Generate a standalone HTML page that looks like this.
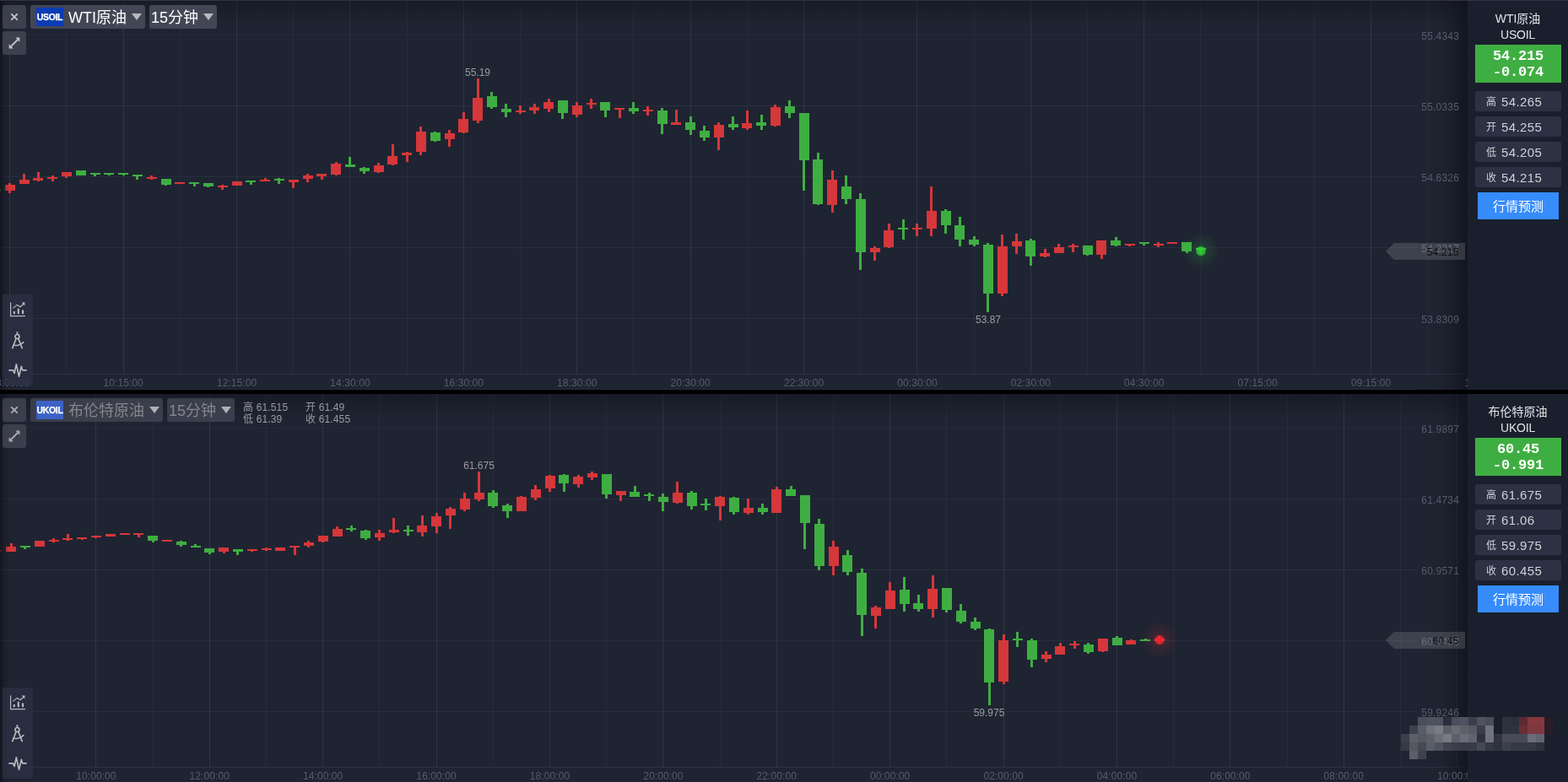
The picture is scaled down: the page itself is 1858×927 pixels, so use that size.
<!DOCTYPE html>
<html lang="zh-CN"><head><meta charset="utf-8"><title>行情</title>
<style>
*{box-sizing:border-box;margin:0;padding:0}
html,body{width:1858px;height:927px;overflow:hidden;background:#000;font-family:"Liberation Sans","Noto Sans CJK SC",sans-serif}
.panel{position:absolute;left:0;width:1858px;overflow:hidden}
.chart{position:absolute;left:0;top:0;width:1739px;height:100%;background:#1f2432}
.topline{position:absolute;left:0;top:0;width:100%;height:1px;z-index:9}
.vig{position:absolute;left:0;width:1739px;z-index:3;pointer-events:none;
 background:linear-gradient(to right,rgba(14,16,25,.75) 0,rgba(14,16,25,.35) 4px,rgba(14,16,25,0) 11px),linear-gradient(to left,rgba(14,16,25,.7) 0,rgba(14,16,25,.55) 8px,rgba(14,16,25,.3) 18px,rgba(14,16,25,.1) 30px,rgba(14,16,25,0) 46px),linear-gradient(to bottom,rgba(14,16,25,.45) 0,rgba(14,16,25,0) 30px)}
.cv{position:absolute;left:0;top:0;z-index:2}
.cv2{position:absolute;left:0;top:0;z-index:4}
.cv2 text{font-family:"Liberation Sans",sans-serif;font-size:12px}
.cv2 .ax{fill:#575b6a;letter-spacing:.18px}
.cv2 .tm{fill:#575c6d;letter-spacing:.08px}
.cv2 .hl{fill:#9b9b9f}
.cv2 .tg{fill:#0e0f12;letter-spacing:.18px}
.mos{position:absolute;left:1650px;top:840px;z-index:20}
.tb{position:absolute;left:0;top:0;z-index:5}
.btn{position:absolute;height:28px;border-radius:3px;background:#3c3f4d;display:flex;align-items:center;justify-content:center}
.btn.nm{justify-content:flex-start;background:#434655;color:#fff;font-size:18px;white-space:nowrap}
.badge{position:absolute;left:7px;top:3px;width:32px;height:22px;background:#0b3cb4;color:#fff;font-weight:bold;font-size:10.5px;line-height:22.4px;text-align:center;letter-spacing:-.35px;-webkit-text-stroke:.25px #fff}
.btn.nm .t{position:absolute;left:45px;top:.5px;line-height:28px}
.btn.iv .t{left:2px}
.tri{position:absolute;right:4.4px;top:10px;width:0;height:0;border-left:6px solid transparent;border-right:6px solid transparent;border-top:8px solid #b9b9bd}
.dim .btn{background:rgba(70,73,88,.72)}
.dim .btn.nm{background:rgba(70,73,88,.72);color:#85868c}
.dim .badge{background:#3c62c4}
.dim .btn>svg{opacity:.82}
.dim .tri{border-top-color:#b0b0b5}
.ohlc{position:absolute;color:#9a9ba0;font-size:12px;line-height:14.2px;white-space:nowrap;letter-spacing:.15px}
.ohlc span{display:inline-block}
.ohlc .c1{width:74px}
.tools{position:absolute;left:3px;top:349px;width:36px;height:108px;background:rgba(43,48,67,.82);z-index:5}
.tools div{height:36px;display:flex;align-items:center;justify-content:center}
.side{position:absolute;left:1739px;top:0;width:119px;height:100%;background:#1a1f2e;color:#e2e3e6;text-align:center;z-index:6}
.nm1{position:absolute;left:0;right:0;top:13px;font-size:14px;line-height:18px}
.nm2{position:absolute;left:0;right:0;top:32px;font-size:14px;line-height:18px;letter-spacing:-.2px}
.px{position:absolute;left:9px;top:53px;width:102px;height:45px;background:#3fae42;color:#fff;font-family:"Liberation Mono",monospace;font-weight:bold;font-size:17px;letter-spacing:-.2px;line-height:19px;padding-top:3.5px;white-space:nowrap}
.px b{display:inline-block;width:10px;text-align:center;font-weight:bold}
.px b.m{font-weight:normal;transform:scale(1.55,.6);transform-origin:50% 62%}
.st{position:relative;margin-left:9px;width:102px;height:24px;background:#2c3144;border-radius:3px;margin-bottom:6px;text-align:left;line-height:24px;white-space:nowrap}
.st:first-of-type{}
.st .k{position:absolute;left:13px;top:1px;font-size:12px;color:#d0d1d6}
.st .v{position:absolute;left:31px;top:1px;font-size:15px;letter-spacing:.4px;color:#d0d1d6}
.rows{position:absolute;top:108px}
.pred{position:absolute;left:12px;top:228px;width:96px;height:32px;background:#378cfc;color:#fff;font-size:15px;line-height:34px;text-align:center}
</style></head>
<body>
<div class="panel" style="top:0px;height:462px">
<div class="chart"></div><div class="topline" style="background:#30343f"></div>
<div class="tb">
<div class="btn" style="left:3px;top:6px;width:28px"><svg width="12" height="12" viewBox="0 0 12 12" stroke="#c6c6ca" stroke-width="1.8" fill="none"><path d="M2.3 2.3l7.4 7.4M9.7 2.3l-7.4 7.4"/></svg></div>
<div class="btn nm" style="left:36px;top:6px;width:136px"><span class="badge">USOIL</span><span class="t">WTI原油</span><i class="tri"></i></div>
<div class="btn nm iv" style="left:177px;top:6px;width:80px"><span class="t">15分钟</span><i class="tri"></i></div>
<div class="btn" style="left:3px;top:37px;width:28px"><svg width="16" height="16" viewBox="0 0 16 16" fill="#c2c2c6" stroke="#c2c2c6" stroke-width="1.8"><path d="M4 12L12 4" fill="none"/><path d="M9.2 1.6h5.2v5.2z" stroke="none"/><path d="M1.6 9.2v5.2h5.2z" stroke="none"/></svg></div>

</div>
<div class="tools"><div><svg width="20" height="20" viewBox="0 0 20 20" fill="none" stroke="#b9b9bd" stroke-width="1.2"><path d="M1.6 1.4V17.6H19"/><path d="M5.8 15.2v-3.2M10.8 15.2v-6.4M16 15.2v-4.8" stroke-width="2.1"/><path d="M4.4 8.4l4.7-4 4 2.4 4.2-3.8"/><path d="M14.6 1.6h3.8v3.8z" fill="#b9b9bd" stroke="none"/></svg></div><div><svg width="20" height="22" viewBox="0 0 20 22" fill="none" stroke="#b9b9bd" stroke-width="1.7" stroke-linecap="round"><circle cx="9.4" cy="7" r="2.5"/><path d="M9.4 1.8v2.4"/><path d="M8.1 9.3L3.8 20.6M10.7 9.3L15.2 20.6"/><path d="M4.9 17c3.6 1.2 8.6-.2 11.9-3.4"/></svg></div><div><svg width="22" height="18" viewBox="0 0 22 18" fill="none" stroke="#b9b9bd" stroke-width="1.7" stroke-linejoin="round" stroke-linecap="round"><path d="M1 8.8h4.4l1.7 3.6L9.3 1.8l3.2 14.6 2.8-12 1.4 4.4H21"/></svg></div></div>
<div class="side">
<div class="nm1">WTI原油</div><div class="nm2">USOIL</div>
<div class="px"><div>54.215</div><div>-0.074</div></div>
<div class="rows"><div class="st"><span class="k">高</span><span class="v">54.265</span></div><div class="st"><span class="k">开</span><span class="v">54.255</span></div><div class="st"><span class="k">低</span><span class="v">54.205</span></div><div class="st"><span class="k">收</span><span class="v">54.215</span></div>
</div><div class="pred">行情预测</div>
</div>
</div>
<div class="panel" style="top:466px;height:461px">
<div class="chart"></div><div class="topline" style="background:#000"></div>
<div class="tb dim">
<div class="btn" style="left:3px;top:6px;width:28px"><svg width="12" height="12" viewBox="0 0 12 12" stroke="#c6c6ca" stroke-width="1.8" fill="none"><path d="M2.3 2.3l7.4 7.4M9.7 2.3l-7.4 7.4"/></svg></div>
<div class="btn nm" style="left:36px;top:6px;width:157px"><span class="badge">UKOIL</span><span class="t">布伦特原油</span><i class="tri"></i></div>
<div class="btn nm iv" style="left:198px;top:6px;width:80px"><span class="t">15分钟</span><i class="tri"></i></div>
<div class="btn" style="left:3px;top:37px;width:28px"><svg width="16" height="16" viewBox="0 0 16 16" fill="#c2c2c6" stroke="#c2c2c6" stroke-width="1.8"><path d="M4 12L12 4" fill="none"/><path d="M9.2 1.6h5.2v5.2z" stroke="none"/><path d="M1.6 9.2v5.2h5.2z" stroke="none"/></svg></div>
<div class="ohlc" style="left:288px;top:10px"><div><span class="c1">高 61.515</span><span>开 61.49</span></div><div><span class="c1">低 61.39</span><span>收 61.455</span></div></div>
</div>
<div class="tools"><div><svg width="20" height="20" viewBox="0 0 20 20" fill="none" stroke="#b9b9bd" stroke-width="1.2"><path d="M1.6 1.4V17.6H19"/><path d="M5.8 15.2v-3.2M10.8 15.2v-6.4M16 15.2v-4.8" stroke-width="2.1"/><path d="M4.4 8.4l4.7-4 4 2.4 4.2-3.8"/><path d="M14.6 1.6h3.8v3.8z" fill="#b9b9bd" stroke="none"/></svg></div><div><svg width="20" height="22" viewBox="0 0 20 22" fill="none" stroke="#b9b9bd" stroke-width="1.7" stroke-linecap="round"><circle cx="9.4" cy="7" r="2.5"/><path d="M9.4 1.8v2.4"/><path d="M8.1 9.3L3.8 20.6M10.7 9.3L15.2 20.6"/><path d="M4.9 17c3.6 1.2 8.6-.2 11.9-3.4"/></svg></div><div><svg width="22" height="18" viewBox="0 0 22 18" fill="none" stroke="#b9b9bd" stroke-width="1.7" stroke-linejoin="round" stroke-linecap="round"><path d="M1 8.8h4.4l1.7 3.6L9.3 1.8l3.2 14.6 2.8-12 1.4 4.4H21"/></svg></div></div>
<div class="side">
<div class="nm1">布伦特原油</div><div class="nm2">UKOIL</div>
<div class="px"><div>60.45</div><div>-0.991</div></div>
<div class="rows"><div class="st"><span class="k">高</span><span class="v">61.675</span></div><div class="st"><span class="k">开</span><span class="v">61.06</span></div><div class="st"><span class="k">低</span><span class="v">59.975</span></div><div class="st"><span class="k">收</span><span class="v">60.455</span></div>
</div><div class="pred">行情预测</div>
</div>
</div>
<svg class="cv" width="1739" height="927" viewBox="0 0 1739 927" shape-rendering="crispEdges">
<defs>
<radialGradient id="gg"><stop offset="0" stop-color="#35d03a" stop-opacity="0.40"/><stop offset="0.35" stop-color="#35d03a" stop-opacity="0.13"/><stop offset="1" stop-color="#35d03a" stop-opacity="0"/></radialGradient>
<radialGradient id="gr"><stop offset="0" stop-color="#f02a2e" stop-opacity="0.40"/><stop offset="0.35" stop-color="#f02a2e" stop-opacity="0.13"/><stop offset="1" stop-color="#f02a2e" stop-opacity="0"/></radialGradient>
<clipPath id="c1"><rect x="0" y="0" width="1739" height="462"/></clipPath>
<clipPath id="c2"><rect x="0" y="466" width="1739" height="461"/></clipPath>
</defs>
<g clip-path="url(#c1)">
<rect x="0" y="41" width="1679" height="1" fill="#8fa3c0" fill-opacity="0.045"/>
<rect x="0" y="125" width="1679" height="1" fill="#8fa3c0" fill-opacity="0.085"/>
<rect x="0" y="209" width="1679" height="1" fill="#8fa3c0" fill-opacity="0.085"/>
<rect x="0" y="293" width="1679" height="1" fill="#8fa3c0" fill-opacity="0.085"/>
<rect x="0" y="377" width="1679" height="1" fill="#8fa3c0" fill-opacity="0.085"/>
<rect x="0" y="461" width="1679" height="1" fill="#8fa3c0" fill-opacity="0.085"/>
<rect x="0" y="443" width="1739" height="1" fill="#8fa3c0" fill-opacity="0.12"/>
<rect x="11" y="0" width="1" height="443" fill="#8fa3c0" fill-opacity="0.14"/>
<rect x="78" y="0" width="1" height="443" fill="#8fa3c0" fill-opacity="0.06"/>
<rect x="146" y="0" width="1" height="443" fill="#8fa3c0" fill-opacity="0.14"/>
<rect x="213" y="0" width="1" height="443" fill="#8fa3c0" fill-opacity="0.06"/>
<rect x="280" y="0" width="1" height="443" fill="#8fa3c0" fill-opacity="0.14"/>
<rect x="347" y="0" width="1" height="443" fill="#8fa3c0" fill-opacity="0.06"/>
<rect x="414" y="0" width="1" height="443" fill="#8fa3c0" fill-opacity="0.14"/>
<rect x="482" y="0" width="1" height="443" fill="#8fa3c0" fill-opacity="0.06"/>
<rect x="549" y="0" width="1" height="443" fill="#8fa3c0" fill-opacity="0.14"/>
<rect x="616" y="0" width="1" height="443" fill="#8fa3c0" fill-opacity="0.06"/>
<rect x="683" y="0" width="1" height="443" fill="#8fa3c0" fill-opacity="0.14"/>
<rect x="750" y="0" width="1" height="443" fill="#8fa3c0" fill-opacity="0.06"/>
<rect x="818" y="0" width="1" height="443" fill="#8fa3c0" fill-opacity="0.14"/>
<rect x="885" y="0" width="1" height="443" fill="#8fa3c0" fill-opacity="0.06"/>
<rect x="952" y="0" width="1" height="443" fill="#8fa3c0" fill-opacity="0.14"/>
<rect x="1019" y="0" width="1" height="443" fill="#8fa3c0" fill-opacity="0.06"/>
<rect x="1086" y="0" width="1" height="443" fill="#8fa3c0" fill-opacity="0.14"/>
<rect x="1154" y="0" width="1" height="443" fill="#8fa3c0" fill-opacity="0.06"/>
<rect x="1221" y="0" width="1" height="443" fill="#8fa3c0" fill-opacity="0.14"/>
<rect x="1288" y="0" width="1" height="443" fill="#8fa3c0" fill-opacity="0.06"/>
<rect x="1355" y="0" width="1" height="443" fill="#8fa3c0" fill-opacity="0.14"/>
<rect x="1422" y="0" width="1" height="443" fill="#8fa3c0" fill-opacity="0.06"/>
<rect x="1490" y="0" width="1" height="443" fill="#8fa3c0" fill-opacity="0.14"/>
<rect x="1557" y="0" width="1" height="443" fill="#8fa3c0" fill-opacity="0.06"/>
<rect x="1624" y="0" width="1" height="443" fill="#8fa3c0" fill-opacity="0.14"/>
<rect x="1691" y="0" width="1" height="443" fill="#8fa3c0" fill-opacity="0.06"/>
<g fill="#3fae42"><rect x="-11" y="224" width="12" height="3"/></g>
<g fill="#d5373a"><rect x="10" y="217" width="3" height="12"/><rect x="6" y="219" width="12" height="7"/></g>
<g fill="#d5373a"><rect x="27" y="206" width="3" height="12"/><rect x="23" y="213" width="12" height="5"/></g>
<g fill="#d5373a"><rect x="44" y="204" width="3" height="11"/><rect x="39" y="211" width="12" height="3"/></g>
<g fill="#d5373a"><rect x="61" y="208" width="3" height="7"/><rect x="56" y="210" width="12" height="2"/></g>
<g fill="#d5373a"><rect x="77" y="204" width="3" height="7"/><rect x="73" y="204" width="12" height="5"/></g>
<g fill="#3fae42"><rect x="90" y="202" width="12" height="6"/></g>
<g fill="#3fae42"><rect x="111" y="205" width="3" height="4"/><rect x="107" y="205" width="12" height="2"/></g>
<g fill="#3fae42"><rect x="128" y="205" width="3" height="3"/><rect x="123" y="205" width="12" height="2"/></g>
<g fill="#3fae42"><rect x="145" y="205" width="3" height="3"/><rect x="140" y="205" width="12" height="2"/></g>
<g fill="#3fae42"><rect x="161" y="207" width="3" height="6"/><rect x="157" y="207" width="12" height="2"/></g>
<g fill="#d5373a"><rect x="178" y="208" width="3" height="5"/><rect x="174" y="210" width="12" height="2"/></g>
<g fill="#3fae42"><rect x="195" y="212" width="3" height="8"/><rect x="191" y="212" width="12" height="7"/></g>
<g fill="#d5373a"><rect x="207" y="216" width="12" height="2"/></g>
<g fill="#3fae42"><rect x="229" y="216" width="3" height="5"/><rect x="224" y="216" width="12" height="2"/></g>
<g fill="#3fae42"><rect x="245" y="217" width="3" height="5"/><rect x="241" y="217" width="12" height="4"/></g>
<g fill="#d5373a"><rect x="262" y="219" width="3" height="6"/><rect x="258" y="220" width="12" height="2"/></g>
<g fill="#d5373a"><rect x="275" y="215" width="12" height="5"/></g>
<g fill="#3fae42"><rect x="296" y="214" width="3" height="5"/><rect x="291" y="214" width="12" height="2"/></g>
<g fill="#d5373a"><rect x="313" y="211" width="3" height="4"/><rect x="308" y="213" width="12" height="2"/></g>
<g fill="#3fae42"><rect x="329" y="211" width="3" height="7"/><rect x="325" y="212" width="12" height="2"/></g>
<g fill="#d5373a"><rect x="346" y="213" width="3" height="10"/><rect x="342" y="213" width="12" height="3"/></g>
<g fill="#d5373a"><rect x="363" y="206" width="3" height="10"/><rect x="359" y="208" width="12" height="4"/></g>
<g fill="#d5373a"><rect x="380" y="206" width="3" height="7"/><rect x="375" y="206" width="12" height="3"/></g>
<g fill="#d5373a"><rect x="397" y="192" width="3" height="16"/><rect x="392" y="194" width="12" height="13"/></g>
<g fill="#3fae42"><rect x="413" y="186" width="3" height="12"/><rect x="409" y="195" width="12" height="3"/></g>
<g fill="#3fae42"><rect x="430" y="198" width="3" height="8"/><rect x="426" y="199" width="12" height="4"/></g>
<g fill="#d5373a"><rect x="447" y="193" width="3" height="12"/><rect x="443" y="196" width="12" height="8"/></g>
<g fill="#d5373a"><rect x="464" y="171" width="3" height="25"/><rect x="459" y="185" width="12" height="10"/></g>
<g fill="#d5373a"><rect x="481" y="180" width="3" height="12"/><rect x="476" y="181" width="12" height="3"/></g>
<g fill="#d5373a"><rect x="497" y="150" width="3" height="34"/><rect x="493" y="156" width="12" height="24"/></g>
<g fill="#3fae42"><rect x="514" y="156" width="3" height="12"/><rect x="510" y="157" width="12" height="10"/></g>
<g fill="#d5373a"><rect x="531" y="154" width="3" height="20"/><rect x="527" y="158" width="12" height="7"/></g>
<g fill="#d5373a"><rect x="548" y="133" width="3" height="25"/><rect x="543" y="141" width="12" height="16"/></g>
<g fill="#d5373a"><rect x="565" y="93" width="3" height="53"/><rect x="560" y="116" width="12" height="27"/></g>
<g fill="#3fae42"><rect x="581" y="109" width="3" height="20"/><rect x="577" y="114" width="12" height="13"/></g>
<g fill="#3fae42"><rect x="598" y="123" width="3" height="16"/><rect x="594" y="129" width="12" height="4"/></g>
<g fill="#d5373a"><rect x="615" y="125" width="3" height="10"/><rect x="611" y="131" width="12" height="2"/></g>
<g fill="#d5373a"><rect x="632" y="123" width="3" height="12"/><rect x="627" y="127" width="12" height="4"/></g>
<g fill="#d5373a"><rect x="649" y="117" width="3" height="16"/><rect x="644" y="121" width="12" height="8"/></g>
<g fill="#3fae42"><rect x="665" y="119" width="3" height="22"/><rect x="661" y="119" width="12" height="15"/></g>
<g fill="#d5373a"><rect x="682" y="121" width="3" height="18"/><rect x="678" y="125" width="12" height="11"/></g>
<g fill="#d5373a"><rect x="699" y="117" width="3" height="12"/><rect x="695" y="122" width="12" height="2"/></g>
<g fill="#3fae42"><rect x="716" y="121" width="3" height="18"/><rect x="711" y="121" width="12" height="10"/></g>
<g fill="#d5373a"><rect x="733" y="128" width="3" height="12"/><rect x="728" y="128" width="12" height="2"/></g>
<g fill="#3fae42"><rect x="749" y="121" width="3" height="14"/><rect x="745" y="128" width="12" height="4"/></g>
<g fill="#d5373a"><rect x="766" y="126" width="3" height="11"/><rect x="762" y="130" width="12" height="2"/></g>
<g fill="#3fae42"><rect x="783" y="128" width="3" height="31"/><rect x="779" y="131" width="12" height="16"/></g>
<g fill="#d5373a"><rect x="800" y="130" width="3" height="18"/><rect x="795" y="145" width="12" height="3"/></g>
<g fill="#3fae42"><rect x="817" y="138" width="3" height="22"/><rect x="812" y="145" width="12" height="9"/></g>
<g fill="#3fae42"><rect x="833" y="149" width="3" height="18"/><rect x="829" y="155" width="12" height="8"/></g>
<g fill="#d5373a"><rect x="850" y="145" width="3" height="33"/><rect x="846" y="148" width="12" height="15"/></g>
<g fill="#3fae42"><rect x="867" y="138" width="3" height="16"/><rect x="863" y="147" width="12" height="4"/></g>
<g fill="#d5373a"><rect x="884" y="131" width="3" height="23"/><rect x="879" y="146" width="12" height="6"/></g>
<g fill="#3fae42"><rect x="901" y="136" width="3" height="18"/><rect x="896" y="145" width="12" height="4"/></g>
<g fill="#d5373a"><rect x="917" y="124" width="3" height="26"/><rect x="913" y="127" width="12" height="22"/></g>
<g fill="#3fae42"><rect x="934" y="119" width="3" height="21"/><rect x="930" y="126" width="12" height="8"/></g>
<g fill="#3fae42"><rect x="951" y="134" width="3" height="92"/><rect x="947" y="134" width="12" height="56"/></g>
<g fill="#3fae42"><rect x="968" y="181" width="3" height="62"/><rect x="963" y="189" width="12" height="53"/></g>
<g fill="#d5373a"><rect x="985" y="202" width="3" height="50"/><rect x="980" y="213" width="12" height="30"/></g>
<g fill="#3fae42"><rect x="1001" y="208" width="3" height="34"/><rect x="997" y="221" width="12" height="15"/></g>
<g fill="#3fae42"><rect x="1018" y="229" width="3" height="91"/><rect x="1014" y="236" width="12" height="63"/></g>
<g fill="#d5373a"><rect x="1035" y="292" width="3" height="17"/><rect x="1031" y="294" width="12" height="5"/></g>
<g fill="#d5373a"><rect x="1052" y="265" width="3" height="29"/><rect x="1047" y="273" width="12" height="20"/></g>
<g fill="#3fae42"><rect x="1069" y="260" width="3" height="24"/><rect x="1064" y="270" width="12" height="2"/></g>
<g fill="#d5373a"><rect x="1085" y="265" width="3" height="15"/><rect x="1081" y="270" width="12" height="2"/></g>
<g fill="#d5373a"><rect x="1102" y="221" width="3" height="59"/><rect x="1098" y="250" width="12" height="21"/></g>
<g fill="#3fae42"><rect x="1119" y="248" width="3" height="29"/><rect x="1115" y="250" width="12" height="17"/></g>
<g fill="#3fae42"><rect x="1136" y="257" width="3" height="35"/><rect x="1131" y="267" width="12" height="17"/></g>
<g fill="#3fae42"><rect x="1153" y="280" width="3" height="12"/><rect x="1148" y="284" width="12" height="6"/></g>
<g fill="#3fae42"><rect x="1169" y="288" width="3" height="82"/><rect x="1165" y="290" width="12" height="58"/></g>
<g fill="#d5373a"><rect x="1186" y="278" width="3" height="73"/><rect x="1182" y="292" width="12" height="56"/></g>
<g fill="#d5373a"><rect x="1203" y="277" width="3" height="24"/><rect x="1199" y="286" width="12" height="6"/></g>
<g fill="#3fae42"><rect x="1220" y="283" width="3" height="32"/><rect x="1215" y="285" width="12" height="19"/></g>
<g fill="#d5373a"><rect x="1237" y="295" width="3" height="10"/><rect x="1232" y="300" width="12" height="4"/></g>
<g fill="#d5373a"><rect x="1253" y="289" width="3" height="11"/><rect x="1249" y="293" width="12" height="7"/></g>
<g fill="#d5373a"><rect x="1270" y="289" width="3" height="10"/><rect x="1266" y="291" width="12" height="2"/></g>
<g fill="#3fae42"><rect x="1287" y="291" width="3" height="12"/><rect x="1283" y="291" width="12" height="11"/></g>
<g fill="#d5373a"><rect x="1304" y="285" width="3" height="22"/><rect x="1299" y="285" width="12" height="17"/></g>
<g fill="#3fae42"><rect x="1321" y="281" width="3" height="11"/><rect x="1316" y="285" width="12" height="6"/></g>
<g fill="#d5373a"><rect x="1337" y="289" width="3" height="3"/><rect x="1333" y="289" width="12" height="2"/></g>
<g fill="#3fae42"><rect x="1354" y="287" width="3" height="4"/><rect x="1350" y="287" width="12" height="2"/></g>
<g fill="#d5373a"><rect x="1371" y="287" width="3" height="6"/><rect x="1367" y="289" width="12" height="2"/></g>
<g fill="#d5373a"><rect x="1383" y="287" width="12" height="2"/></g>
<g fill="#3fae42"><rect x="1405" y="287" width="3" height="13"/><rect x="1400" y="287" width="12" height="11"/></g>
<g fill="#3fae42"><rect x="1421" y="294" width="3" height="6"/><rect x="1417" y="294" width="12" height="2"/></g>
<g shape-rendering="auto"><circle cx="1423" cy="297.5" r="22" fill="url(#gg)"/><circle cx="1423" cy="297.5" r="5.5" fill="#2fd634" fill-opacity="0.75"/></g>
</g>
<g clip-path="url(#c2)">
<rect x="0" y="507" width="1679" height="1" fill="#8fa3c0" fill-opacity="0.045"/>
<rect x="0" y="591" width="1679" height="1" fill="#8fa3c0" fill-opacity="0.085"/>
<rect x="0" y="675" width="1679" height="1" fill="#8fa3c0" fill-opacity="0.085"/>
<rect x="0" y="759" width="1679" height="1" fill="#8fa3c0" fill-opacity="0.085"/>
<rect x="0" y="843" width="1679" height="1" fill="#8fa3c0" fill-opacity="0.085"/>
<rect x="0" y="909" width="1739" height="1" fill="#8fa3c0" fill-opacity="0.12"/>
<rect x="113" y="466" width="1" height="443" fill="#8fa3c0" fill-opacity="0.14"/>
<rect x="181" y="466" width="1" height="443" fill="#8fa3c0" fill-opacity="0.06"/>
<rect x="248" y="466" width="1" height="443" fill="#8fa3c0" fill-opacity="0.14"/>
<rect x="315" y="466" width="1" height="443" fill="#8fa3c0" fill-opacity="0.06"/>
<rect x="382" y="466" width="1" height="443" fill="#8fa3c0" fill-opacity="0.14"/>
<rect x="449" y="466" width="1" height="443" fill="#8fa3c0" fill-opacity="0.06"/>
<rect x="517" y="466" width="1" height="443" fill="#8fa3c0" fill-opacity="0.14"/>
<rect x="584" y="466" width="1" height="443" fill="#8fa3c0" fill-opacity="0.06"/>
<rect x="651" y="466" width="1" height="443" fill="#8fa3c0" fill-opacity="0.14"/>
<rect x="718" y="466" width="1" height="443" fill="#8fa3c0" fill-opacity="0.06"/>
<rect x="785" y="466" width="1" height="443" fill="#8fa3c0" fill-opacity="0.14"/>
<rect x="853" y="466" width="1" height="443" fill="#8fa3c0" fill-opacity="0.06"/>
<rect x="920" y="466" width="1" height="443" fill="#8fa3c0" fill-opacity="0.14"/>
<rect x="987" y="466" width="1" height="443" fill="#8fa3c0" fill-opacity="0.06"/>
<rect x="1054" y="466" width="1" height="443" fill="#8fa3c0" fill-opacity="0.14"/>
<rect x="1121" y="466" width="1" height="443" fill="#8fa3c0" fill-opacity="0.06"/>
<rect x="1189" y="466" width="1" height="443" fill="#8fa3c0" fill-opacity="0.14"/>
<rect x="1256" y="466" width="1" height="443" fill="#8fa3c0" fill-opacity="0.06"/>
<rect x="1323" y="466" width="1" height="443" fill="#8fa3c0" fill-opacity="0.14"/>
<rect x="1390" y="466" width="1" height="443" fill="#8fa3c0" fill-opacity="0.06"/>
<rect x="1457" y="466" width="1" height="443" fill="#8fa3c0" fill-opacity="0.14"/>
<rect x="1525" y="466" width="1" height="443" fill="#8fa3c0" fill-opacity="0.06"/>
<rect x="1592" y="466" width="1" height="443" fill="#8fa3c0" fill-opacity="0.14"/>
<rect x="1659" y="466" width="1" height="443" fill="#8fa3c0" fill-opacity="0.06"/>
<rect x="1726" y="466" width="1" height="443" fill="#8fa3c0" fill-opacity="0.14"/>
<g fill="#d5373a"><rect x="-10" y="652" width="12" height="2"/></g>
<g fill="#d5373a"><rect x="12" y="644" width="3" height="10"/><rect x="7" y="648" width="12" height="6"/></g>
<g fill="#3fae42"><rect x="28" y="647" width="3" height="4"/><rect x="24" y="647" width="12" height="2"/></g>
<g fill="#d5373a"><rect x="41" y="641" width="12" height="7"/></g>
<g fill="#d5373a"><rect x="62" y="638" width="3" height="5"/><rect x="58" y="640" width="12" height="2"/></g>
<g fill="#d5373a"><rect x="79" y="633" width="3" height="8"/><rect x="74" y="638" width="12" height="2"/></g>
<g fill="#d5373a"><rect x="96" y="637" width="3" height="3"/><rect x="91" y="637" width="12" height="2"/></g>
<g fill="#d5373a"><rect x="112" y="635" width="3" height="3"/><rect x="108" y="635" width="12" height="2"/></g>
<g fill="#d5373a"><rect x="125" y="633" width="12" height="3"/></g>
<g fill="#d5373a"><rect x="142" y="632" width="12" height="2"/></g>
<g fill="#d5373a"><rect x="163" y="632" width="3" height="5"/><rect x="158" y="632" width="12" height="2"/></g>
<g fill="#3fae42"><rect x="180" y="635" width="3" height="8"/><rect x="175" y="635" width="12" height="6"/></g>
<g fill="#d5373a"><rect x="192" y="640" width="12" height="2"/></g>
<g fill="#3fae42"><rect x="213" y="641" width="3" height="7"/><rect x="209" y="642" width="12" height="4"/></g>
<g fill="#3fae42"><rect x="230" y="645" width="3" height="4"/><rect x="226" y="647" width="12" height="2"/></g>
<g fill="#3fae42"><rect x="247" y="650" width="3" height="7"/><rect x="242" y="650" width="12" height="5"/></g>
<g fill="#d5373a"><rect x="264" y="649" width="3" height="7"/><rect x="259" y="649" width="12" height="5"/></g>
<g fill="#3fae42"><rect x="280" y="651" width="3" height="7"/><rect x="276" y="651" width="12" height="3"/></g>
<g fill="#d5373a"><rect x="297" y="651" width="3" height="3"/><rect x="293" y="651" width="12" height="2"/></g>
<g fill="#d5373a"><rect x="314" y="649" width="3" height="4"/><rect x="310" y="650" width="12" height="2"/></g>
<g fill="#d5373a"><rect x="326" y="649" width="12" height="4"/></g>
<g fill="#d5373a"><rect x="348" y="647" width="3" height="11"/><rect x="343" y="647" width="12" height="2"/></g>
<g fill="#d5373a"><rect x="364" y="641" width="3" height="8"/><rect x="360" y="643" width="12" height="4"/></g>
<g fill="#d5373a"><rect x="381" y="635" width="3" height="8"/><rect x="377" y="635" width="12" height="7"/></g>
<g fill="#d5373a"><rect x="398" y="624" width="3" height="12"/><rect x="394" y="627" width="12" height="9"/></g>
<g fill="#3fae42"><rect x="415" y="623" width="3" height="7"/><rect x="410" y="626" width="12" height="2"/></g>
<g fill="#3fae42"><rect x="432" y="628" width="3" height="12"/><rect x="427" y="629" width="12" height="9"/></g>
<g fill="#d5373a"><rect x="448" y="628" width="3" height="13"/><rect x="444" y="632" width="12" height="5"/></g>
<g fill="#d5373a"><rect x="465" y="614" width="3" height="18"/><rect x="461" y="628" width="12" height="3"/></g>
<g fill="#3fae42"><rect x="482" y="623" width="3" height="12"/><rect x="478" y="628" width="12" height="2"/></g>
<g fill="#d5373a"><rect x="499" y="611" width="3" height="25"/><rect x="494" y="623" width="12" height="8"/></g>
<g fill="#d5373a"><rect x="516" y="608" width="3" height="24"/><rect x="511" y="612" width="12" height="12"/></g>
<g fill="#d5373a"><rect x="532" y="601" width="3" height="26"/><rect x="528" y="603" width="12" height="8"/></g>
<g fill="#d5373a"><rect x="549" y="584" width="3" height="22"/><rect x="545" y="591" width="12" height="13"/></g>
<g fill="#d5373a"><rect x="566" y="559" width="3" height="35"/><rect x="562" y="584" width="12" height="8"/></g>
<g fill="#3fae42"><rect x="583" y="581" width="3" height="21"/><rect x="578" y="584" width="12" height="16"/></g>
<g fill="#3fae42"><rect x="600" y="597" width="3" height="17"/><rect x="595" y="599" width="12" height="7"/></g>
<g fill="#d5373a"><rect x="616" y="588" width="3" height="18"/><rect x="612" y="589" width="12" height="17"/></g>
<g fill="#d5373a"><rect x="633" y="575" width="3" height="18"/><rect x="629" y="580" width="12" height="10"/></g>
<g fill="#d5373a"><rect x="650" y="563" width="3" height="20"/><rect x="646" y="564" width="12" height="15"/></g>
<g fill="#3fae42"><rect x="667" y="562" width="3" height="21"/><rect x="662" y="563" width="12" height="10"/></g>
<g fill="#d5373a"><rect x="684" y="563" width="3" height="15"/><rect x="679" y="565" width="12" height="9"/></g>
<g fill="#d5373a"><rect x="700" y="559" width="3" height="10"/><rect x="696" y="561" width="12" height="5"/></g>
<g fill="#3fae42"><rect x="717" y="562" width="3" height="29"/><rect x="713" y="562" width="12" height="24"/></g>
<g fill="#d5373a"><rect x="734" y="582" width="3" height="12"/><rect x="730" y="582" width="12" height="5"/></g>
<g fill="#3fae42"><rect x="751" y="576" width="3" height="13"/><rect x="746" y="583" width="12" height="6"/></g>
<g fill="#3fae42"><rect x="768" y="584" width="3" height="10"/><rect x="763" y="586" width="12" height="2"/></g>
<g fill="#3fae42"><rect x="784" y="585" width="3" height="21"/><rect x="780" y="589" width="12" height="6"/></g>
<g fill="#d5373a"><rect x="801" y="571" width="3" height="26"/><rect x="797" y="584" width="12" height="12"/></g>
<g fill="#3fae42"><rect x="818" y="582" width="3" height="22"/><rect x="814" y="584" width="12" height="16"/></g>
<g fill="#3fae42"><rect x="835" y="591" width="3" height="14"/><rect x="830" y="597" width="12" height="2"/></g>
<g fill="#d5373a"><rect x="852" y="588" width="3" height="29"/><rect x="847" y="589" width="12" height="11"/></g>
<g fill="#3fae42"><rect x="868" y="589" width="3" height="21"/><rect x="864" y="590" width="12" height="17"/></g>
<g fill="#d5373a"><rect x="885" y="591" width="3" height="19"/><rect x="881" y="602" width="12" height="6"/></g>
<g fill="#3fae42"><rect x="902" y="597" width="3" height="13"/><rect x="898" y="602" width="12" height="5"/></g>
<g fill="#d5373a"><rect x="919" y="577" width="3" height="31"/><rect x="914" y="580" width="12" height="28"/></g>
<g fill="#3fae42"><rect x="936" y="576" width="3" height="12"/><rect x="931" y="580" width="12" height="8"/></g>
<g fill="#3fae42"><rect x="952" y="587" width="3" height="64"/><rect x="948" y="587" width="12" height="33"/></g>
<g fill="#3fae42"><rect x="969" y="615" width="3" height="61"/><rect x="965" y="621" width="12" height="50"/></g>
<g fill="#d5373a"><rect x="986" y="641" width="3" height="41"/><rect x="982" y="648" width="12" height="23"/></g>
<g fill="#3fae42"><rect x="1003" y="652" width="3" height="30"/><rect x="998" y="658" width="12" height="20"/></g>
<g fill="#3fae42"><rect x="1020" y="674" width="3" height="80"/><rect x="1015" y="679" width="12" height="50"/></g>
<g fill="#d5373a"><rect x="1036" y="718" width="3" height="27"/><rect x="1032" y="720" width="12" height="10"/></g>
<g fill="#d5373a"><rect x="1053" y="690" width="3" height="32"/><rect x="1049" y="700" width="12" height="22"/></g>
<g fill="#3fae42"><rect x="1070" y="684" width="3" height="41"/><rect x="1066" y="699" width="12" height="17"/></g>
<g fill="#3fae42"><rect x="1087" y="705" width="3" height="20"/><rect x="1082" y="715" width="12" height="7"/></g>
<g fill="#d5373a"><rect x="1104" y="682" width="3" height="50"/><rect x="1099" y="698" width="12" height="24"/></g>
<g fill="#3fae42"><rect x="1120" y="697" width="3" height="29"/><rect x="1116" y="697" width="12" height="26"/></g>
<g fill="#3fae42"><rect x="1137" y="716" width="3" height="23"/><rect x="1133" y="724" width="12" height="13"/></g>
<g fill="#3fae42"><rect x="1154" y="732" width="3" height="15"/><rect x="1150" y="737" width="12" height="8"/></g>
<g fill="#3fae42"><rect x="1171" y="745" width="3" height="91"/><rect x="1166" y="746" width="12" height="63"/></g>
<g fill="#d5373a"><rect x="1188" y="752" width="3" height="59"/><rect x="1183" y="759" width="12" height="49"/></g>
<g fill="#3fae42"><rect x="1204" y="749" width="3" height="18"/><rect x="1200" y="757" width="12" height="2"/></g>
<g fill="#3fae42"><rect x="1221" y="757" width="3" height="34"/><rect x="1217" y="759" width="12" height="23"/></g>
<g fill="#d5373a"><rect x="1238" y="772" width="3" height="13"/><rect x="1234" y="776" width="12" height="5"/></g>
<g fill="#d5373a"><rect x="1255" y="762" width="3" height="14"/><rect x="1250" y="766" width="12" height="10"/></g>
<g fill="#d5373a"><rect x="1272" y="760" width="3" height="9"/><rect x="1267" y="763" width="12" height="2"/></g>
<g fill="#3fae42"><rect x="1288" y="762" width="3" height="13"/><rect x="1284" y="764" width="12" height="9"/></g>
<g fill="#d5373a"><rect x="1305" y="757" width="3" height="16"/><rect x="1301" y="757" width="12" height="15"/></g>
<g fill="#3fae42"><rect x="1322" y="754" width="3" height="11"/><rect x="1318" y="756" width="12" height="9"/></g>
<g fill="#d5373a"><rect x="1339" y="758" width="3" height="6"/><rect x="1334" y="759" width="12" height="5"/></g>
<g fill="#3fae42"><rect x="1356" y="757" width="3" height="3"/><rect x="1351" y="758" width="12" height="2"/></g>
<g fill="#d5373a"><rect x="1372" y="754" width="3" height="8"/><rect x="1368" y="757" width="12" height="3"/></g>
<g shape-rendering="auto"><circle cx="1374" cy="758.5" r="22" fill="url(#gr)"/><circle cx="1374" cy="758.5" r="5.5" fill="#f0262b" fill-opacity="0.75"/></g>
</g>
</svg>
<div class="vig" style="top:0;height:462px"></div><div class="vig" style="top:466px;height:461px"></div>
<svg class="cv2" width="1739" height="927" viewBox="0 0 1739 927">
<defs>
<clipPath id="d1"><rect x="0" y="0" width="1739" height="462"/></clipPath>
<clipPath id="d2"><rect x="0" y="466" width="1739" height="461"/></clipPath>
</defs>
<g clip-path="url(#d1)">
<text x="1729" y="47" text-anchor="end" class="ax">55.4343</text>
<text x="1729" y="131" text-anchor="end" class="ax">55.0335</text>
<text x="1729" y="215" text-anchor="end" class="ax">54.6326</text>
<text x="1729" y="299" text-anchor="end" class="ax">54.2317</text>
<text x="1729" y="383" text-anchor="end" class="ax">53.8309</text>
<text x="11.8" y="458" text-anchor="middle" class="tm">08:00:00</text>
<text x="146.2" y="458" text-anchor="middle" class="tm">10:15:00</text>
<text x="280.6" y="458" text-anchor="middle" class="tm">12:15:00</text>
<text x="415.0" y="458" text-anchor="middle" class="tm">14:30:00</text>
<text x="549.4" y="458" text-anchor="middle" class="tm">16:30:00</text>
<text x="683.8" y="458" text-anchor="middle" class="tm">18:30:00</text>
<text x="818.2" y="458" text-anchor="middle" class="tm">20:30:00</text>
<text x="952.6" y="458" text-anchor="middle" class="tm">22:30:00</text>
<text x="1087.0" y="458" text-anchor="middle" class="tm">00:30:00</text>
<text x="1221.4" y="458" text-anchor="middle" class="tm">02:30:00</text>
<text x="1355.8" y="458" text-anchor="middle" class="tm">04:30:00</text>
<text x="1490.2" y="458" text-anchor="middle" class="tm">07:15:00</text>
<text x="1624.6" y="458" text-anchor="middle" class="tm">09:15:00</text>
<text x="1759.0" y="458" text-anchor="middle" class="tm">11:15:00</text>
<text x="566" y="90" text-anchor="middle" class="hl">55.19</text>
<text x="1171" y="383" text-anchor="middle" class="hl">53.87</text>
<polygon points="1642,298 1652,288 1736,288 1736,308 1652,308" fill="#fff" fill-opacity="0.14"/><text x="1728.5" y="303" text-anchor="end" class="tg">54.215</text>
</g>
<g clip-path="url(#d2)">
<text x="1729" y="513" text-anchor="end" class="ax">61.9897</text>
<text x="1729" y="597" text-anchor="end" class="ax">61.4734</text>
<text x="1729" y="681" text-anchor="end" class="ax">60.9571</text>
<text x="1729" y="765" text-anchor="end" class="ax">60.4408</text>
<text x="1729" y="849" text-anchor="end" class="ax">59.9246</text>
<text x="113.9" y="924" text-anchor="middle" class="tm">10:00:00</text>
<text x="248.3" y="924" text-anchor="middle" class="tm">12:00:00</text>
<text x="382.7" y="924" text-anchor="middle" class="tm">14:00:00</text>
<text x="517.1" y="924" text-anchor="middle" class="tm">16:00:00</text>
<text x="651.5" y="924" text-anchor="middle" class="tm">18:00:00</text>
<text x="785.9" y="924" text-anchor="middle" class="tm">20:00:00</text>
<text x="920.3" y="924" text-anchor="middle" class="tm">22:00:00</text>
<text x="1054.7" y="924" text-anchor="middle" class="tm">00:00:00</text>
<text x="1189.1" y="924" text-anchor="middle" class="tm">02:00:00</text>
<text x="1323.5" y="924" text-anchor="middle" class="tm">04:00:00</text>
<text x="1457.9" y="924" text-anchor="middle" class="tm">06:00:00</text>
<text x="1592.3" y="924" text-anchor="middle" class="tm">08:00:00</text>
<text x="1726.7" y="924" text-anchor="middle" class="tm">10:00:00</text>
<text x="567.5" y="556" text-anchor="middle" class="hl">61.675</text>
<text x="1172" y="849" text-anchor="middle" class="hl">59.975</text>
<polygon points="1642,759 1652,749 1736,749 1736,769 1652,769" fill="#fff" fill-opacity="0.14"/><text x="1728.5" y="764" text-anchor="end" class="tg">60.45</text>
</g>
</svg>
<svg class="mos" width="190" height="70" viewBox="-10 -10 190 70"><defs><filter id="mb" x="-10%" y="-20%" width="120%" height="140%"><feGaussianBlur stdDeviation="0.7"/></filter></defs><g filter="url(#mb)"><rect x="20" y="0" width="10" height="10" fill="#4b4e5c"/><rect x="30" y="0" width="10" height="10" fill="#4f5260"/><rect x="40" y="0" width="10" height="10" fill="#4e515f"/><rect x="50" y="0" width="10" height="10" fill="#2b2e3c"/><rect x="60" y="0" width="10" height="10" fill="#4b4e5c"/><rect x="70" y="0" width="10" height="10" fill="#50535f"/><rect x="80" y="0" width="10" height="10" fill="#3a3d4b"/><rect x="90" y="0" width="10" height="10" fill="#505361"/><rect x="100" y="0" width="10" height="10" fill="#484b59"/><rect x="120" y="0" width="10" height="10" fill="#2d303e"/><rect x="130" y="0" width="10" height="10" fill="#2b2e3c"/><rect x="140" y="0" width="10" height="10" fill="#5c2a32"/><rect x="150" y="0" width="10" height="10" fill="#84393e"/><rect x="160" y="0" width="10" height="10" fill="#84393e"/><rect x="170" y="0" width="10" height="10" fill="#2b1f2c"/><rect x="10" y="10" width="10" height="10" fill="#3c3f4d"/><rect x="20" y="10" width="10" height="10" fill="#595c69"/><rect x="30" y="10" width="10" height="10" fill="#6e707b"/><rect x="40" y="10" width="10" height="10" fill="#787a85"/><rect x="50" y="10" width="10" height="10" fill="#5b5e6a"/><rect x="60" y="10" width="10" height="10" fill="#6b6a72"/><rect x="70" y="10" width="10" height="10" fill="#5f5e66"/><rect x="80" y="10" width="10" height="10" fill="#585a66"/><rect x="90" y="10" width="10" height="10" fill="#3b3e4c"/><rect x="100" y="10" width="10" height="10" fill="#70727d"/><rect x="120" y="10" width="10" height="10" fill="#2d303e"/><rect x="130" y="10" width="10" height="10" fill="#2d303e"/><rect x="140" y="10" width="10" height="10" fill="#6b2d35"/><rect x="150" y="10" width="10" height="10" fill="#7d373c"/><rect x="160" y="10" width="10" height="10" fill="#7d373c"/><rect x="170" y="10" width="10" height="10" fill="#2a1f2c"/><rect x="0" y="20" width="10" height="10" fill="#3a3d49"/><rect x="10" y="20" width="10" height="10" fill="#5b5e69"/><rect x="20" y="20" width="10" height="10" fill="#555863"/><rect x="30" y="20" width="10" height="10" fill="#5d606b"/><rect x="40" y="20" width="10" height="10" fill="#6c6e79"/><rect x="50" y="20" width="10" height="10" fill="#787a85"/><rect x="60" y="20" width="10" height="10" fill="#5d606b"/><rect x="70" y="20" width="10" height="10" fill="#6a6c77"/><rect x="80" y="20" width="10" height="10" fill="#62646f"/><rect x="90" y="20" width="10" height="10" fill="#2d303e"/><rect x="100" y="20" width="10" height="10" fill="#70727d"/><rect x="110" y="20" width="10" height="10" fill="#30333f"/><rect x="120" y="20" width="10" height="10" fill="#484b58"/><rect x="130" y="20" width="10" height="10" fill="#484b58"/><rect x="140" y="20" width="10" height="10" fill="#464956"/><rect x="150" y="20" width="10" height="10" fill="#6a6c78"/><rect x="160" y="20" width="10" height="10" fill="#62646f"/><rect x="0" y="30" width="10" height="10" fill="#363945"/><rect x="10" y="30" width="10" height="10" fill="#555863"/><rect x="20" y="30" width="10" height="10" fill="#454853"/><rect x="30" y="30" width="10" height="10" fill="#585b66"/><rect x="40" y="30" width="10" height="10" fill="#50535e"/><rect x="50" y="30" width="10" height="10" fill="#40434f"/><rect x="60" y="30" width="10" height="10" fill="#3b3e4a"/><rect x="70" y="30" width="10" height="10" fill="#383b47"/><rect x="80" y="30" width="10" height="10" fill="#383b47"/><rect x="90" y="30" width="10" height="10" fill="#454853"/><rect x="100" y="30" width="10" height="10" fill="#353844"/><rect x="110" y="30" width="10" height="10" fill="#2e313d"/><rect x="120" y="30" width="10" height="10" fill="#3d404c"/><rect x="130" y="30" width="10" height="10" fill="#353844"/><rect x="140" y="30" width="10" height="10" fill="#353844"/><rect x="150" y="30" width="10" height="10" fill="#353844"/><rect x="160" y="30" width="10" height="10" fill="#2e313d"/><rect x="10" y="40" width="10" height="10" fill="#5b5e69"/><rect x="20" y="40" width="10" height="10" fill="#3f424e"/></g></svg>
</body></html>
